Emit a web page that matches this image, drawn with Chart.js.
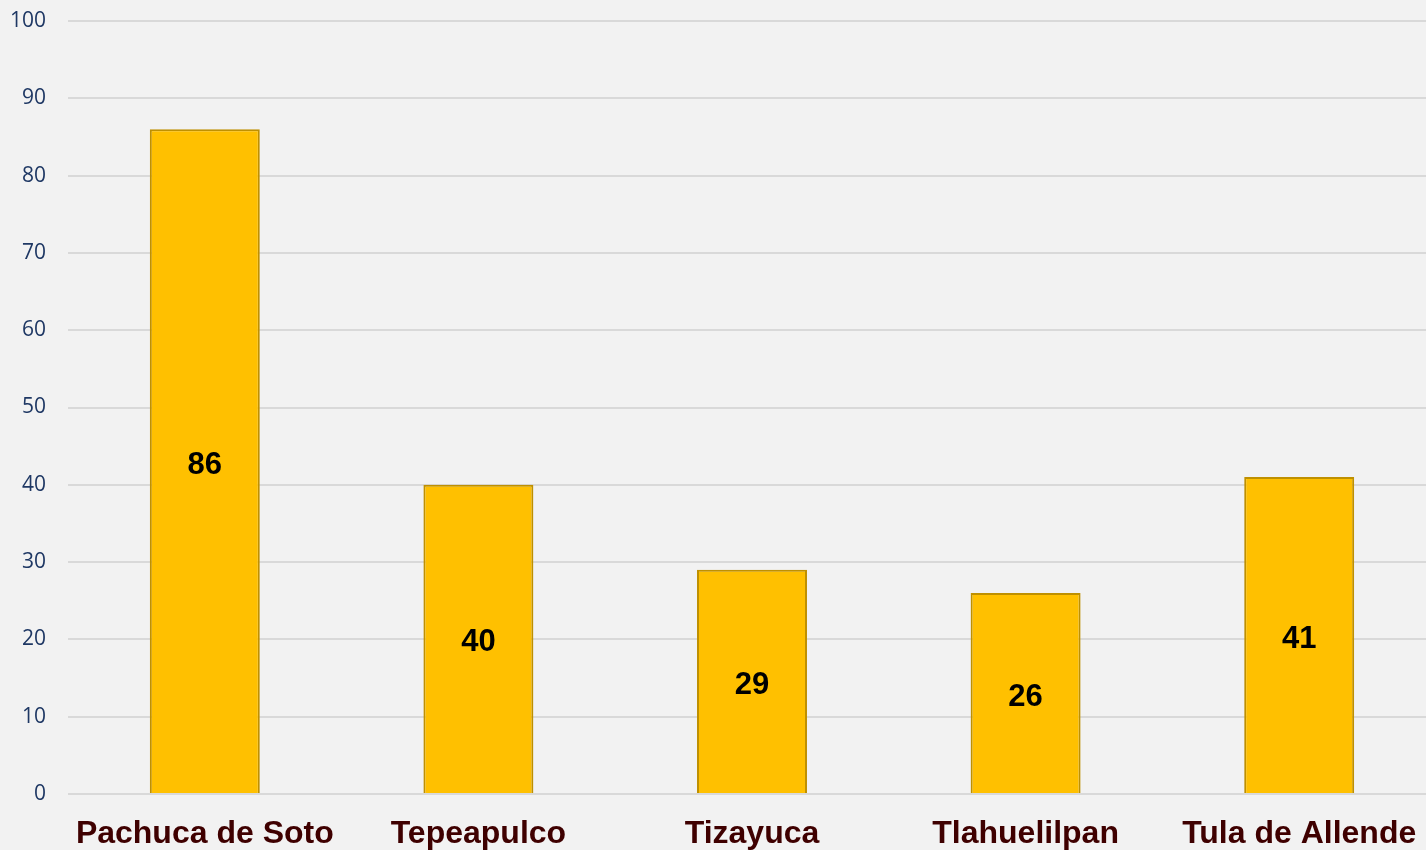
<!DOCTYPE html>
<html>
<head>
<meta charset="utf-8">
<script src="https://cdn.jsdelivr.net/npm/chart.js@4"></script>
<style>
html,body{margin:0;padding:0;background:#F2F2F2;overflow:hidden;}
#wrap{width:1436px;height:850px;position:relative;}
</style>
</head>
<body>
<div id="wrap"><canvas id="c"></canvas></div>
<script>
const categories = ["Pachuca de Soto", "Tepeapulco", "Tizayuca", "Tlahuelilpan", "Tula de Allende"];
const values = [86, 40, 29, 26, 41];
const yTicks = [0, 10, 20, 30, 40, 50, 60, 70, 80, 90, 100];

const barLabels = {
  id: 'barLabels',
  afterDatasetsDraw(chart) {
    const ctx = chart.ctx;
    const meta = chart.getDatasetMeta(0);
    ctx.save();
    ctx.font = 'bold 31px "Liberation Sans", Arial, sans-serif';
    ctx.fillStyle = '#000000';
    ctx.textAlign = 'center';
    ctx.textBaseline = 'middle';
    meta.data.forEach((bar, i) => {
      const p = bar.getProps(['x', 'y', 'base'], true);
      ctx.fillText(String(values[i]), p.x, (p.y + p.base) / 2 + 4);
    });
    ctx.restore();
  }
};

new Chart(document.getElementById('c'), {
  type: 'bar',
  data: {
    labels: categories,
    datasets: [{
      data: values,
      backgroundColor: '#FFC000',
      borderColor: '#BF9000',
      borderWidth: 2,
      barPercentage: 0.402,
      categoryPercentage: 1.0
    }]
  },
  options: {
    responsive: true,
    maintainAspectRatio: false,
    animation: false,
    layout: { padding: { left: 12, right: 0, top: 21, bottom: 0 } },
    plugins: { legend: { display: false }, tooltip: { enabled: false } },
    scales: {
      x: {
        grid: { display: false, drawTicks: false },
        border: { display: false },
        afterFit(axis) { axis.height = 56; axis.paddingLeft = 0; axis.paddingRight = 0; },
        ticks: {
          padding: 21,
          color: '#3F0000',
          font: { family: '"Liberation Sans", Arial, sans-serif', size: 32, weight: 'bold' },
          maxRotation: 0,
          autoSkip: false
        }
      },
      y: {
        min: 0,
        max: 100,
        afterBuildTicks(axis) { axis.ticks = yTicks.map(v => ({ value: v })); },
        afterFit(axis) { axis.width = 56; axis.paddingTop = 0; axis.paddingBottom = 0; },
        grid: { color: '#D9D9D9', lineWidth: 2, drawTicks: false },
        border: { display: false },
        ticks: {
          padding: 22,
          color: '#1F3864',
          font: { family: '"Open Sans", sans-serif', size: 21 }
        }
      }
    }
  },
  plugins: [barLabels]
});
</script>
</body>
</html>
